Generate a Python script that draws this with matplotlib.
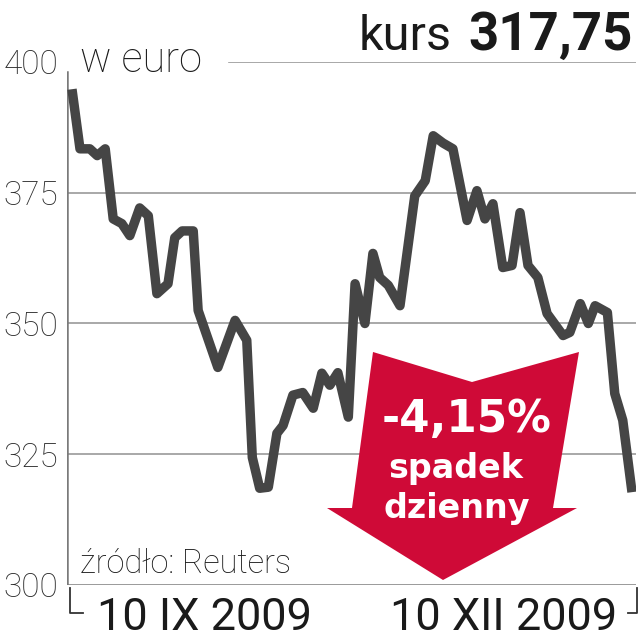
"""Kurs akcji w euro, 10 IX - 10 XII 2009, z czerwona strzalka spadku dziennego."""

from __future__ import annotations

import matplotlib

matplotlib.use("Agg")
import matplotlib.pyplot as plt
from matplotlib import font_manager
from matplotlib.lines import Line2D
from matplotlib.patches import Polygon

# ── Data ───────────────────────────────────────────────────────────────

DAY_OFFSETS = [
    0, 1.3, 2.9, 4.1, 5.4, 6.7, 8.1, 9.4, 11.0, 12.4,
    13.8, 15.6, 16.7, 17.9, 19.7, 20.5, 23.7, 26.5, 28.4, 29.3,
    30.5, 31.9, 33.3, 34.3, 35.9, 37.5, 39.2, 40.6, 41.9, 43.2,
    44.9, 46.0, 47.6, 48.9, 50.0, 51.4, 53.3, 55.7, 57.4, 58.7,
    60.3, 61.9, 64.2, 65.8, 67.1, 68.4, 70.0, 71.5, 72.8, 74.1,
    75.7, 77.2, 79.8, 80.9, 82.6, 83.9, 85.0, 87.0, 88.2, 89.5,
    91.0,
]
PRICES = [
    394.8, 383.4, 383.4, 382.1, 383.4, 370.0, 369.1, 366.8, 372.1, 370.6,
    355.7, 357.6, 366.4, 367.7, 367.7, 352.5, 341.6, 350.6, 346.8, 324.4,
    318.5, 318.7, 329.0, 330.5, 336.3, 336.8, 333.8, 340.5, 338.2, 340.6,
    332.1, 357.6, 350.0, 363.4, 358.8, 357.3, 353.4, 374.4, 377.3, 385.9,
    384.5, 383.4, 369.7, 375.4, 370.0, 372.9, 360.7, 361.1, 371.2, 361.1,
    358.8, 351.9, 347.7, 348.3, 353.8, 350.0, 353.4, 352.1, 336.6, 331.5,
    317.75,
]
Y_TICKS = [300, 325, 350, 375, 400]
DATE_LABELS = ["10 IX 2009", "10 XII 2009"]
LAST_PRICE = "317,75"
DAILY_CHANGE = "-4,15%"

# ── Style ──────────────────────────────────────────────────────────────

W = H = 640
LINE_COLOR = "#454545"
GRID_COLOR = "#9a9a9a"
AXIS_COLOR = "#7a7a7a"
RED = "#CF0A37"
TEXT_COLOR = "#1a1a1a"

# callout arrow outline, figure pixels from top-left
ARROW_PX = [(373, 352), (472, 382), (579, 352), (553, 508),
            (577, 508), (443, 580), (327, 508), (352, 508)]


def _pick(*names: str) -> str:
    avail = {f.name for f in font_manager.fontManager.ttflist}
    for n in names:
        if n in avail:
            return n
    return "DejaVu Sans"


def _fx(px: float) -> float:
    return px / W


def _fy(py: float) -> float:
    return 1 - py / H


def main() -> None:
    light = _pick("Roboto", "Lato", "Open Sans")
    narrow = _pick("Liberation Sans Narrow", "Roboto", "Liberation Sans")

    fig = plt.figure(figsize=(6.4, 6.4), dpi=100, facecolor="white")
    ax = fig.add_axes([_fx(67), _fy(585), _fx(636 - 67), (585 - 62) / H])
    ax.set_xlim(-0.81, 91.65)
    ax.set_ylim(300, 400)
    ax.set_facecolor("white")
    for s in ax.spines.values():
        s.set_visible(False)

    # grid
    for v in Y_TICKS[1:-1]:
        ax.axhline(v, color=GRID_COLOR, lw=1.2, zorder=1)
    ax.axhline(Y_TICKS[0], color=GRID_COLOR, lw=1.4, zorder=1)
    ax.axhline(Y_TICKS[-1], xmin=(229 - 67) / (636 - 67), color=GRID_COLOR, lw=1.2, zorder=1)
    ax.axvline(ax.get_xlim()[0], ymin=0, ymax=0.981, color=AXIS_COLOR, lw=1.8, zorder=1)

    ax.set_xticks([])
    ax.set_yticks(Y_TICKS)
    ax.set_yticklabels([str(v) for v in Y_TICKS])
    ax.tick_params(axis="y", length=0, pad=6.5)
    for lbl in ax.get_yticklabels():
        lbl.set_fontfamily(light)
        lbl.set_fontweight("light")
        lbl.set_fontsize(24)
        lbl.set_color("#2a2a2a")

    ax.plot(DAY_OFFSETS, PRICES, color=LINE_COLOR, lw=6.8,
            solid_joinstyle="round", solid_capstyle="butt", zorder=3)

    # red callout
    arrow = Polygon([(_fx(x), _fy(y)) for x, y in ARROW_PX], closed=True,
                    transform=fig.transFigure, facecolor=RED, edgecolor="none", zorder=4)
    fig.patches.append(arrow)
    fig.text(_fx(467), _fy(432), DAILY_CHANGE, color="white", fontsize=31.5,
             fontweight="bold", family="DejaVu Sans", ha="center", va="baseline", zorder=5)
    fig.text(_fx(456), _fy(478), "spadek", color="white", fontsize=24,
             fontweight="bold", family="DejaVu Sans", ha="center", va="baseline", zorder=5)
    fig.text(_fx(457), _fy(518), "dzienny", color="white", fontsize=24,
             fontweight="bold", family="DejaVu Sans", ha="center", va="baseline", zorder=5)

    # headings
    fig.text(_fx(80), _fy(72), "w euro", fontsize=30, family=light, fontweight="light",
             color=TEXT_COLOR, ha="left", va="baseline")
    price = fig.text(_fx(633), _fy(50), LAST_PRICE, fontsize=38, family=narrow,
                     fontweight="bold", color=TEXT_COLOR, ha="right", va="baseline")
    renderer = fig.canvas.get_renderer()
    bb = price.get_window_extent(renderer)
    fig.text((bb.x0 - 17) / W, _fy(50), "kurs", fontsize=35, family=narrow,
             color=TEXT_COLOR, ha="right", va="baseline")

    fig.text(_fx(80), _fy(573), "źródło: Reuters", fontsize=23.5, family=light,
             fontweight="light", color=TEXT_COLOR, ha="left", va="baseline")

    # date labels with bracket ticks
    fig.text(_fx(97), _fy(630), DATE_LABELS[0], fontsize=32.5, family=light,
             color=TEXT_COLOR, ha="left", va="baseline")
    fig.text(_fx(617), _fy(630), DATE_LABELS[1], fontsize=32.5, family=light,
             color=TEXT_COLOR, ha="right", va="baseline")
    for xs, ys in [([70, 70, 83], [588, 613, 613]), ([637, 637, 628], [588, 613, 613])]:
        fig.add_artist(Line2D([_fx(x) for x in xs], [_fy(y) for y in ys],
                              color="#333333", lw=1.3, transform=fig.transFigure))

    fig.savefig("out.png", dpi=100, facecolor="white")
    plt.close(fig)


if __name__ == "__main__":
    main()
